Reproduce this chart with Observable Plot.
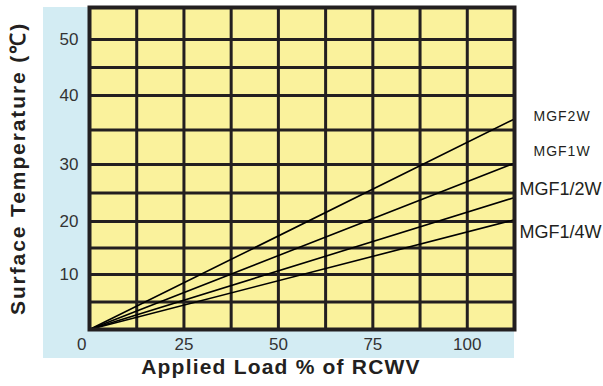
<!DOCTYPE html>
<html><head><meta charset="utf-8">
<script src="https://cdn.jsdelivr.net/npm/d3@7"></script>
<script src="https://cdn.jsdelivr.net/npm/@observablehq/plot@0.6"></script>
<style>
body{margin:0;background:#fff;}
#wrap{position:relative;width:603px;height:386px;overflow:hidden;}
#bg{position:absolute;left:43px;top:7px;width:471px;height:351px;background:#d3ecf3;}
#chart{position:absolute;left:0;top:0;}
</style></head><body>
<div id="wrap"><div id="bg"></div><div id="chart"></div></div>
<script>
// ---- data ----
const series = ["MGF2W", "MGF1W", "MGF1/2W", "MGF1/4W"];
const loadPoints = [0, 112.5];            // % of RCWV (line start, right edge)
const tempMGF2W  = [0, 36.6];
const tempMGF1W  = [0, 30.2];
const tempMGF12W = [0, 24.2];
const tempMGF14W = [0, 20.3];
const xTickLabels = [0, 25, 50, 75, 100];
const yTickLabels = [10, 20, 30, 40, 50];
const xGrid = [12.5, 25, 37.5, 50, 62.5, 75, 87.5, 100];
const yGrid = [5, 10, 15, 20, 25, 30, 35, 40, 45, 50];
const xTitle = "Applied Load % of RCWV";
const yTitle = "Surface Temperature (℃)";

const temps = [tempMGF2W, tempMGF1W, tempMGF12W, tempMGF14W];
const rows = series.flatMap((s, i) => loadPoints.map((l, j) => ({series: s, load: l, temp: temps[i][j]})));
const ends = series.map((s, i) => ({series: s, load: loadPoints[1], temp: temps[i][1]}));

// the original chart's temperature axis is slightly uneven: piecewise-linear warp of the value axis
const warp = d3.scaleLinear()
  .domain([0, 10, 20, 30, 40, 50, 55])
  .range([0, 9.39, 18.45, 28.18, 39.97, 49.53, 55]);

// ---- styles ----
const FONT = "'Liberation Sans', Arial, Helvetica, sans-serif";
const INK = "#231f20";
const YELLOW = "#faf29c";
const labelStyle = [
  {dx: 19, dy: -2, size: 14, ls: 1},
  {dx: 19, dy: -12, size: 14, ls: 1},
  {dx: 5, dy: -8, size: 18, ls: 0},
  {dx: 5, dy: 12, size: 18, ls: 0}
];

const plot = Plot.plot({
  width: 603, height: 386,
  marginLeft: 89, marginRight: 89, marginTop: 7, marginBottom: 57,
  style: {background: "transparent", fontFamily: FONT, overflow: "visible"},
  x: {domain: [0, 112.5], range: [89, 514], axis: null},
  y: {domain: [0, 55], range: [329, 7], axis: null},
  marks: [
    Plot.frame({fill: YELLOW}),
    Plot.ruleX(xGrid, {x: d => d, stroke: INK, strokeWidth: 3}),
    Plot.ruleY(yGrid, {y: d => warp(d), stroke: INK, strokeWidth: 3}),
    Plot.line(rows, {x: "load", y: d => warp(d.temp), z: "series", stroke: "#000", strokeWidth: 1.6}),
    Plot.frame({stroke: INK, strokeWidth: 4}),
    // y tick labels
    Plot.text(yTickLabels, {y: d => warp(d), text: d => String(d), frameAnchor: "left", textAnchor: "end", lineAnchor: "middle", dx: -11, fontSize: 17, fill: "#333"}),
    // x tick labels
    Plot.text(xTickLabels.filter(d => d !== 0), {x: d => d, text: d => String(d), frameAnchor: "bottom", textAnchor: "middle", lineAnchor: "middle", dy: 15, fontSize: 17, fill: "#333"}),
    Plot.text(xTickLabels.filter(d => d === 0), {x: d => d, text: d => String(d), frameAnchor: "bottom", lineAnchor: "middle", dy: 15, dx: -3, textAnchor: "end", fontSize: 17, fill: "#333"}),
    // series labels
    ...ends.map((e, i) => Plot.text([e], {x: "load", y: d => warp(d.temp), text: "series", textAnchor: "start", lineAnchor: "middle",
      dx: labelStyle[i].dx, dy: labelStyle[i].dy, fontSize: labelStyle[i].size, fill: INK})),
    // axis titles
    Plot.text([xTitle], {text: d => d, frameAnchor: "bottom", textAnchor: "middle", lineAnchor: "middle", dx: -21, dy: 37.5, fontSize: 21, fontWeight: "bold", fill: INK}),
    Plot.text([yTitle], {text: d => d, frameAnchor: "left", textAnchor: "middle", lineAnchor: "middle", rotate: -90, dx: -71, fontSize: 21, fontWeight: "bold", fill: INK})
  ]
});

// letter spacing tweaks
d3.select(plot).selectAll("text").each(function() {
  const t = this.textContent;
  const i = series.indexOf(t);
  if (i >= 0 && labelStyle[i].ls) this.setAttribute("letter-spacing", labelStyle[i].ls);
  if (t === xTitle) this.setAttribute("letter-spacing", 1.2);
  if (t === yTitle) this.setAttribute("letter-spacing", 1.9);
});

document.getElementById("chart").appendChild(plot);
</script>
</body></html>
